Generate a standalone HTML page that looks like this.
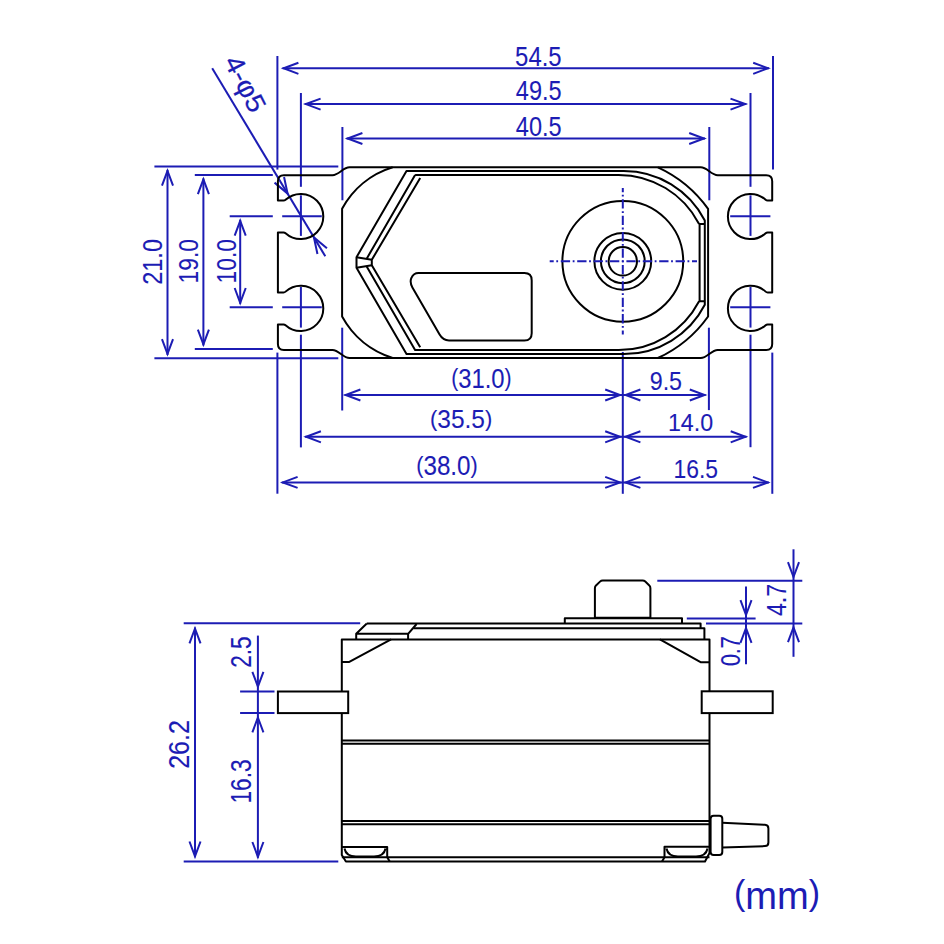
<!DOCTYPE html>
<html><head><meta charset="utf-8"><style>
html,body{margin:0;padding:0;background:#fff;width:944px;height:944px;overflow:hidden}
svg{display:block}
text{font-family:"Liberation Sans",sans-serif}
</style></head><body>
<svg width="944" height="944" viewBox="0 0 944 944">
<rect width="944" height="944" fill="#fff"/>
<line x1="282.6" y1="68.3" x2="769.0" y2="68.3" stroke="#1c1cb4" stroke-width="2"/>
<path d="M298.40 73.83L283.60 68.30L298.40 62.77" stroke="#1c1cb4" stroke-width="2" fill="none"/>
<path d="M753.20 62.77L768.00 68.30L753.20 73.83" stroke="#1c1cb4" stroke-width="2" fill="none"/>
<line x1="304.8" y1="104.1" x2="746.3" y2="104.1" stroke="#1c1cb4" stroke-width="2"/>
<path d="M320.60 109.63L305.80 104.10L320.60 98.57" stroke="#1c1cb4" stroke-width="2" fill="none"/>
<path d="M730.50 98.57L745.30 104.10L730.50 109.63" stroke="#1c1cb4" stroke-width="2" fill="none"/>
<line x1="346.6" y1="138.5" x2="705.0" y2="138.5" stroke="#1c1cb4" stroke-width="2"/>
<path d="M362.40 144.03L347.60 138.50L362.40 132.97" stroke="#1c1cb4" stroke-width="2" fill="none"/>
<path d="M689.20 132.97L704.00 138.50L689.20 144.03" stroke="#1c1cb4" stroke-width="2" fill="none"/>
<line x1="277.4" y1="56" x2="277.4" y2="169.6" stroke="#1c1cb4" stroke-width="2"/>
<line x1="773.0" y1="56" x2="773.0" y2="169.6" stroke="#1c1cb4" stroke-width="2"/>
<line x1="300.9" y1="93" x2="300.9" y2="186.8" stroke="#1c1cb4" stroke-width="2"/>
<line x1="750.5" y1="93" x2="750.5" y2="186.8" stroke="#1c1cb4" stroke-width="2"/>
<line x1="342.4" y1="127" x2="342.4" y2="200.3" stroke="#1c1cb4" stroke-width="2"/>
<line x1="709.3" y1="127" x2="709.3" y2="200.3" stroke="#1c1cb4" stroke-width="2"/>
<line x1="300.9" y1="195.29999999999998" x2="300.9" y2="235.9" stroke="#1c1cb4" stroke-width="2"/>
<line x1="300.9" y1="287.0" x2="300.9" y2="327.6" stroke="#1c1cb4" stroke-width="2"/>
<line x1="750.5" y1="195.29999999999998" x2="750.5" y2="235.9" stroke="#1c1cb4" stroke-width="2"/>
<line x1="750.5" y1="287.0" x2="750.5" y2="327.6" stroke="#1c1cb4" stroke-width="2"/>
<line x1="282.2" y1="216.2" x2="321.8" y2="216.2" stroke="#1c1cb4" stroke-width="2"/>
<line x1="730.2" y1="216.2" x2="770.4" y2="216.2" stroke="#1c1cb4" stroke-width="2"/>
<line x1="229.7" y1="216.2" x2="272.8" y2="216.2" stroke="#1c1cb4" stroke-width="2"/>
<line x1="282.2" y1="307.2" x2="321.8" y2="307.2" stroke="#1c1cb4" stroke-width="2"/>
<line x1="730.2" y1="307.2" x2="770.4" y2="307.2" stroke="#1c1cb4" stroke-width="2"/>
<line x1="229.7" y1="307.2" x2="272.8" y2="307.2" stroke="#1c1cb4" stroke-width="2"/>
<line x1="154.4" y1="166.4" x2="338.3" y2="166.4" stroke="#1c1cb4" stroke-width="2"/>
<line x1="154.4" y1="358.3" x2="338.3" y2="358.3" stroke="#1c1cb4" stroke-width="2"/>
<line x1="194.8" y1="174.9" x2="272.8" y2="174.9" stroke="#1c1cb4" stroke-width="2"/>
<line x1="194.8" y1="348.9" x2="272.8" y2="348.9" stroke="#1c1cb4" stroke-width="2"/>
<line x1="167.5" y1="169.9" x2="167.5" y2="354.9" stroke="#1c1cb4" stroke-width="2"/>
<path d="M161.97 185.70L167.50 170.90L173.03 185.70" stroke="#1c1cb4" stroke-width="2" fill="none"/>
<path d="M173.03 339.10L167.50 353.90L161.97 339.10" stroke="#1c1cb4" stroke-width="2" fill="none"/>
<line x1="203.4" y1="178.4" x2="203.4" y2="345.4" stroke="#1c1cb4" stroke-width="2"/>
<path d="M197.87 194.20L203.40 179.40L208.93 194.20" stroke="#1c1cb4" stroke-width="2" fill="none"/>
<path d="M208.93 329.60L203.40 344.40L197.87 329.60" stroke="#1c1cb4" stroke-width="2" fill="none"/>
<line x1="240.2" y1="219.8" x2="240.2" y2="303.8" stroke="#1c1cb4" stroke-width="2"/>
<path d="M234.67 235.60L240.20 220.80L245.73 235.60" stroke="#1c1cb4" stroke-width="2" fill="none"/>
<path d="M245.73 288.00L240.20 302.80L234.67 288.00" stroke="#1c1cb4" stroke-width="2" fill="none"/>
<line x1="277.4" y1="352.6" x2="277.4" y2="493.7" stroke="#1c1cb4" stroke-width="2"/>
<line x1="772.3" y1="352.6" x2="772.3" y2="493.8" stroke="#1c1cb4" stroke-width="2"/>
<line x1="300.9" y1="334.7" x2="300.9" y2="447.4" stroke="#1c1cb4" stroke-width="2"/>
<line x1="750.5" y1="334.7" x2="750.5" y2="447.2" stroke="#1c1cb4" stroke-width="2"/>
<line x1="342.2" y1="327.7" x2="342.2" y2="410.5" stroke="#1c1cb4" stroke-width="2"/>
<line x1="708.9" y1="327.7" x2="708.9" y2="410.1" stroke="#1c1cb4" stroke-width="2"/>
<line x1="622.8" y1="352.0" x2="622.8" y2="493.8" stroke="#1c1cb4" stroke-width="2"/>
<line x1="344.6" y1="395.0" x2="705.6" y2="395.0" stroke="#1c1cb4" stroke-width="2"/>
<path d="M360.40 400.53L345.60 395.00L360.40 389.47" stroke="#1c1cb4" stroke-width="2" fill="none"/>
<path d="M689.80 389.47L704.60 395.00L689.80 400.53" stroke="#1c1cb4" stroke-width="2" fill="none"/>
<path d="M605.20 389.47L620.00 395.00L605.20 400.53" stroke="#1c1cb4" stroke-width="2" fill="none"/>
<path d="M640.40 400.53L625.60 395.00L640.40 389.47" stroke="#1c1cb4" stroke-width="2" fill="none"/>
<line x1="305.1" y1="436.8" x2="746.5" y2="436.8" stroke="#1c1cb4" stroke-width="2"/>
<path d="M320.90 442.33L306.10 436.80L320.90 431.27" stroke="#1c1cb4" stroke-width="2" fill="none"/>
<path d="M730.70 431.27L745.50 436.80L730.70 442.33" stroke="#1c1cb4" stroke-width="2" fill="none"/>
<path d="M605.20 431.27L620.00 436.80L605.20 442.33" stroke="#1c1cb4" stroke-width="2" fill="none"/>
<path d="M640.40 442.33L625.60 436.80L640.40 431.27" stroke="#1c1cb4" stroke-width="2" fill="none"/>
<line x1="281.8" y1="482.4" x2="768.8" y2="482.4" stroke="#1c1cb4" stroke-width="2"/>
<path d="M297.60 487.93L282.80 482.40L297.60 476.87" stroke="#1c1cb4" stroke-width="2" fill="none"/>
<path d="M753.00 476.87L767.80 482.40L753.00 487.93" stroke="#1c1cb4" stroke-width="2" fill="none"/>
<path d="M605.20 476.87L620.00 482.40L605.20 487.93" stroke="#1c1cb4" stroke-width="2" fill="none"/>
<path d="M640.40 487.93L625.60 482.40L640.40 476.87" stroke="#1c1cb4" stroke-width="2" fill="none"/>
<line x1="212.2" y1="68.2" x2="325.3" y2="256.3" stroke="#1c1cb4" stroke-width="2"/>
<path d="M284.05 176.92L287.58 193.54L274.56 182.62" stroke="#1c1cb4" stroke-width="2" fill="none"/>
<path d="M317.45 253.98L313.92 237.36L326.94 248.28" stroke="#1c1cb4" stroke-width="2" fill="none"/>
<path d="M349.5 167.3 C343 167.3 339 175.2 332.5 175.2 L283.9 175.2 Q277.9 175.2 277.9 181.2 L277.9 200.5 L283.54 200.5 A3.0 3.0 0 0 0 285.55 199.73 A22.6 22.6 0 1 1 285.55 233.27 A3.0 3.0 0 0 0 283.54 232.5 L277.9 232.5 L277.9 292.4 L283.54 292.4 A3.0 3.0 0 0 0 285.55 291.63 A22.6 22.6 0 1 1 285.55 325.17 A3.0 3.0 0 0 0 283.54 324.4 L277.9 324.4 L277.9 343.9 Q277.9 349.9 283.9 349.9 L332.5 349.9 C339 349.9 343 358.0 349.5 358.0 L700.7 358.0 C707.2 358.0 711.2 349.9 717.7 349.9 L766.2 349.9 Q772.2 349.9 772.2 343.9 L772.2 324.4 L767.66 324.4 A3.0 3.0 0 0 0 765.65 325.17 A22.6 22.6 0 1 1 765.65 291.63 A3.0 3.0 0 0 0 767.66 292.4 L772.2 292.4 L772.2 232.5 L767.66 232.5 A3.0 3.0 0 0 0 765.65 233.27 A22.6 22.6 0 1 1 765.65 199.73 A3.0 3.0 0 0 0 767.66 200.5 L772.2 200.5 L772.2 181.2 Q772.2 175.2 766.2 175.2 L717.7 175.2 C711.2 175.2 707.2 167.3 700.7 167.3 Z" stroke="#000" stroke-width="2" fill="none" stroke-linejoin="round" />
<path d="M392.66 167.3 A86.9 86.9 0 0 0 342.1 208.71 L342.1 316.59 A86.9 86.9 0 0 0 392.66 358.0" stroke="#000" stroke-width="2" fill="none" stroke-linejoin="round" />
<path d="M657.88 167.3 A126.8 126.8 0 0 1 708.1 208.83 L708.1 316.47 A126.8 126.8 0 0 1 657.88 358.0" stroke="#000" stroke-width="2" fill="none" stroke-linejoin="round" />
<path d="M406.5 171.1 L623.8 171.1 A91.1 91.1 0 0 1 704.8 220.51 L704.8 304.69 A91.1 91.1 0 0 1 623.8 354.1 L406.5 354.1 L356.5 267.8 L356.5 257.2 Z" stroke="#000" stroke-width="2" fill="none" stroke-linejoin="round" />
<path d="M415.1 174.9 L618.6 174.9 A90.5 90.5 0 0 1 698.8 223.47 L699.6 224.07 L699.6 301.13 L698.8 301.73 A90.5 90.5 0 0 1 618.6 350.1 L415.1 350.1 L366.7 266.5 M366.7 258.7 L415.1 174.9" stroke="#000" stroke-width="2" fill="none" stroke-linejoin="round" />
<path d="M699.6 224.07 L704.8 224.07 M699.6 301.13 L704.8 301.13" stroke="#000" stroke-width="2" fill="none" stroke-linejoin="round" />
<path d="M420.2 178 L371.8 259.8 L371.8 265.2 L420.2 347.2" stroke="#000" stroke-width="2" fill="none" stroke-linejoin="round" />
<path d="M356.5 257.2 L371.8 259.8 M356.5 267.8 L371.8 265.2" stroke="#000" stroke-width="2" fill="none" stroke-linejoin="round" />
<path d="M418.5 273.1 L524.4 273.1 Q531.7 273.1 531.7 280.4 L531.7 333.2 Q531.7 340.5 524.4 340.5 L449 340.5 Q443 340.5 439.6 334.6 L412.4 287.4 Q409.6 282.3 411.3 278.2 Q413.5 273.1 418.5 273.1 Z" stroke="#000" stroke-width="2" fill="none" stroke-linejoin="round" />
<circle cx="622.8" cy="261.3" r="60.4" stroke="#000" stroke-width="2" fill="none"/>
<circle cx="622.8" cy="261.3" r="28.4" stroke="#000" stroke-width="2" fill="none"/>
<circle cx="622.8" cy="261.3" r="21.9" stroke="#000" stroke-width="2" fill="none"/>
<circle cx="622.8" cy="261.3" r="14.2" stroke="#000" stroke-width="2" fill="none"/>
<line x1="549.7" y1="261.3" x2="697" y2="261.3" stroke="#1c1cb4" stroke-width="2" stroke-dasharray="9.3 2.6 1.8 2.7" stroke-dashoffset="5.3"/>
<line x1="622.8" y1="188.1" x2="622.8" y2="334.5" stroke="#1c1cb4" stroke-width="2" stroke-dasharray="9.3 2.6 1.8 2.7" stroke-dashoffset="5.2"/>
<line x1="183.7" y1="623.3" x2="360.2" y2="623.3" stroke="#1c1cb4" stroke-width="2"/>
<line x1="183.7" y1="861.5" x2="338.3" y2="861.5" stroke="#1c1cb4" stroke-width="2"/>
<line x1="240.1" y1="691.4" x2="274.5" y2="691.4" stroke="#1c1cb4" stroke-width="2"/>
<line x1="240.1" y1="712.9" x2="274.5" y2="712.9" stroke="#1c1cb4" stroke-width="2"/>
<line x1="195.0" y1="627.5" x2="195.0" y2="857.3" stroke="#1c1cb4" stroke-width="2"/>
<path d="M189.47 643.30L195.00 628.50L200.53 643.30" stroke="#1c1cb4" stroke-width="2" fill="none"/>
<path d="M200.53 841.50L195.00 856.30L189.47 841.50" stroke="#1c1cb4" stroke-width="2" fill="none"/>
<line x1="257.9" y1="635.6" x2="257.9" y2="857.8" stroke="#1c1cb4" stroke-width="2"/>
<path d="M263.43 671.80L257.90 686.60L252.37 671.80" stroke="#1c1cb4" stroke-width="2" fill="none"/>
<path d="M252.37 732.30L257.90 717.50L263.43 732.30" stroke="#1c1cb4" stroke-width="2" fill="none"/>
<path d="M263.43 842.00L257.90 856.80L252.37 842.00" stroke="#1c1cb4" stroke-width="2" fill="none"/>
<line x1="657.3" y1="580.7" x2="802.3" y2="580.7" stroke="#1c1cb4" stroke-width="2"/>
<line x1="686.8" y1="618.4" x2="755.6" y2="618.4" stroke="#1c1cb4" stroke-width="2"/>
<line x1="706" y1="623.6" x2="802.3" y2="623.6" stroke="#1c1cb4" stroke-width="2"/>
<line x1="793.5" y1="549.3" x2="793.5" y2="656.8" stroke="#1c1cb4" stroke-width="2"/>
<path d="M799.03 562.20L793.50 577.00L787.97 562.20" stroke="#1c1cb4" stroke-width="2" fill="none"/>
<path d="M787.97 642.10L793.50 627.30L799.03 642.10" stroke="#1c1cb4" stroke-width="2" fill="none"/>
<line x1="746.0" y1="586.4" x2="746.0" y2="664.2" stroke="#1c1cb4" stroke-width="2"/>
<path d="M751.53 600.20L746.00 615.00L740.47 600.20" stroke="#1c1cb4" stroke-width="2" fill="none"/>
<path d="M740.47 642.80L746.00 628.00L751.53 642.80" stroke="#1c1cb4" stroke-width="2" fill="none"/>
<path d="M341.8 639.4 L709.5 639.4 L709.5 853 L705 861.5 L345.9 861.5 L341.8 855 Z" stroke="#000" stroke-width="2" fill="none" stroke-linejoin="round" />
<path d="M391.1 639.4 L349.3 661.9 L341.8 661.9" stroke="#000" stroke-width="2" fill="none" stroke-linejoin="round" />
<path d="M659.9 639.4 L701 662.3 L709.5 662.3" stroke="#000" stroke-width="2" fill="none" stroke-linejoin="round" />
<path d="M366.8 623.5 L700.6 623.5 L700.6 628.3 M413.5 628.3 L704.4 628.3 L704.4 639.4" stroke="#000" stroke-width="2" fill="none" stroke-linejoin="round" />
<path d="M366.8 623.5 L356.2 633.8 L356.2 639.4 M356.2 633.8 L408.1 633.8 L408.1 639.4 M408.1 633.8 L416.6 624.0" stroke="#000" stroke-width="2" fill="none" stroke-linejoin="round" />
<path d="M564.8 623.5 L564.8 618.2 L682 618.2 L682 623.5" stroke="#000" stroke-width="2" fill="none" stroke-linejoin="round" />
<path d="M594.9 617.8 L594.9 588.2 Q594.9 586.6 596 585.4 L600 581.6 Q601.1 580.6 602.7 580.6 L642.6 580.6 Q644.2 580.6 645.3 581.6 L649.3 585.4 Q650.4 586.6 650.4 588.2 L650.4 617.8 Z" stroke="#000" stroke-width="2" fill="none" stroke-linejoin="round" />
<path d="M341.8 740.5 L709.5 740.5 M341.8 743.7 L709.5 743.7" stroke="#000" stroke-width="2" fill="none" stroke-linejoin="round" />
<path d="M341.8 821.1 L709.5 821.1 M341.8 824.3 L709.5 824.3" stroke="#000" stroke-width="2" fill="none" stroke-linejoin="round" />
<path d="M341.8 857.3 L709.5 857.3" stroke="#000" stroke-width="2" fill="none" stroke-linejoin="round" />
<path d="M342 847 L387.2 847 L387.2 857.3 L389.7 861.5 M344.5 848.5 Q346 856.5 356 856.5 L374 856.5 Q384 856.5 385.5 848.5" stroke="#000" stroke-width="2" fill="none" stroke-linejoin="round" />
<path d="M709.5 846.8 L664.5 846.8 L664.5 857.3 L662 861.5 M666.5 848.5 Q668 856.5 678 856.5 L696 856.5 Q706 856.5 707.5 848.5" stroke="#000" stroke-width="2" fill="none" stroke-linejoin="round" />
<rect x="277.9" y="691.5" width="70.3" height="21.6" stroke="#000" stroke-width="2" fill="#fff"/>
<rect x="701.7" y="691.3" width="71" height="21.8" stroke="#000" stroke-width="2" fill="#fff"/>
<rect x="710.6" y="815.8" width="11.7" height="39.3" rx="3" stroke="#000" stroke-width="2" fill="#fff"/>
<path d="M722.3 822.7 L765 824.8 Q768.4 825 768.4 828.5 L768.4 842.5 Q768.4 846 765 846.1 L722.3 847.5" stroke="#000" stroke-width="2" fill="none" stroke-linejoin="round" />
<g font-family="Liberation Sans">
<text x="515.10" y="65.54" font-size="27.71" textLength="46.50" lengthAdjust="spacingAndGlyphs" fill="#1c1cb4" stroke="#1c1cb4" stroke-width="0.1">54.5</text>
<text x="515.80" y="100.46" font-size="27.70" textLength="45.80" lengthAdjust="spacingAndGlyphs" fill="#1c1cb4" stroke="#1c1cb4" stroke-width="0.1">49.5</text>
<text x="515.80" y="136.04" font-size="27.36" textLength="45.80" lengthAdjust="spacingAndGlyphs" fill="#1c1cb4" stroke="#1c1cb4" stroke-width="0.1">40.5</text>
<text x="451.22" y="387.86" font-size="27.04" textLength="60.42" lengthAdjust="spacingAndGlyphs" fill="#1c1cb4" stroke="#1c1cb4" stroke-width="0.1"><tspan font-size="24.06" dy="-2.30">(</tspan><tspan dy="2.30">31.0</tspan><tspan font-size="24.06" dy="-2.30">)</tspan></text>
<text x="430.06" y="428.40" font-size="25.40" textLength="62.16" lengthAdjust="spacingAndGlyphs" fill="#1c1cb4" stroke="#1c1cb4" stroke-width="0.1"><tspan font-size="22.61" dy="-2.16">(</tspan><tspan dy="2.16">35.5</tspan><tspan font-size="22.61" dy="-2.16">)</tspan></text>
<text x="416.22" y="474.86" font-size="26.82" textLength="61.54" lengthAdjust="spacingAndGlyphs" fill="#1c1cb4" stroke="#1c1cb4" stroke-width="0.1"><tspan font-size="23.87" dy="-2.28">(</tspan><tspan dy="2.28">38.0</tspan><tspan font-size="23.87" dy="-2.28">)</tspan></text>
<text x="649.68" y="390.46" font-size="25.47" textLength="32.38" lengthAdjust="spacingAndGlyphs" fill="#1c1cb4" stroke="#1c1cb4" stroke-width="0.1">9.5</text>
<text x="667.94" y="431.42" font-size="24.83" textLength="45.24" lengthAdjust="spacingAndGlyphs" fill="#1c1cb4" stroke="#1c1cb4" stroke-width="0.1">14.0</text>
<text x="673.52" y="478.04" font-size="25.58" textLength="44.54" lengthAdjust="spacingAndGlyphs" fill="#1c1cb4" stroke="#1c1cb4" stroke-width="0.1">16.5</text>
<text transform="translate(161.62 284.86) rotate(-90)" font-size="27.95" textLength="45.88" lengthAdjust="spacingAndGlyphs" fill="#1c1cb4" stroke="#1c1cb4" stroke-width="0.1">21.0</text>
<text transform="translate(197.58 283.44) rotate(-90)" font-size="27.95" textLength="44.46" lengthAdjust="spacingAndGlyphs" fill="#1c1cb4" stroke="#1c1cb4" stroke-width="0.1">19.0</text>
<text transform="translate(235.62 283.44) rotate(-90)" font-size="27.95" textLength="44.46" lengthAdjust="spacingAndGlyphs" fill="#1c1cb4" stroke="#1c1cb4" stroke-width="0.1">10.0</text>
<text transform="translate(189.42 768.86) rotate(-90)" font-size="29.55" textLength="48.70" lengthAdjust="spacingAndGlyphs" fill="#1c1cb4" stroke="#1c1cb4" stroke-width="0.1">26.2</text>
<text transform="translate(250.50 667.82) rotate(-90)" font-size="29.55" textLength="31.46" lengthAdjust="spacingAndGlyphs" fill="#1c1cb4" stroke="#1c1cb4" stroke-width="0.1">2.5</text>
<text transform="translate(250.50 803.52) rotate(-90)" font-size="29.55" textLength="44.20" lengthAdjust="spacingAndGlyphs" fill="#1c1cb4" stroke="#1c1cb4" stroke-width="0.1">16.3</text>
<text transform="translate(786.00 616.12) rotate(-90)" font-size="27.18" textLength="32.38" lengthAdjust="spacingAndGlyphs" fill="#1c1cb4" stroke="#1c1cb4" stroke-width="0.1">4.7</text>
<text transform="translate(739.58 666.12) rotate(-90)" font-size="27.70" textLength="29.92" lengthAdjust="spacingAndGlyphs" fill="#1c1cb4" stroke="#1c1cb4" stroke-width="0.1">0.7</text>
<text x="733.94" y="908.66" font-size="39.60" textLength="86.10" lengthAdjust="spacingAndGlyphs" fill="#1c1cb4" stroke="#1c1cb4" stroke-width="0.0"><tspan font-size="35.24" dy="-3.37">(</tspan><tspan dy="3.37">mm</tspan><tspan font-size="35.24" dy="-3.37">)</tspan></text>
</g>
<text transform="translate(223.6 61.6) rotate(63)" font-family="Liberation Sans" font-size="26.8" fill="#1c1cb4" stroke="#1c1cb4" stroke-width="0.2" textLength="59.5" lengthAdjust="spacingAndGlyphs">4-φ5</text>
</svg>
</body></html>
